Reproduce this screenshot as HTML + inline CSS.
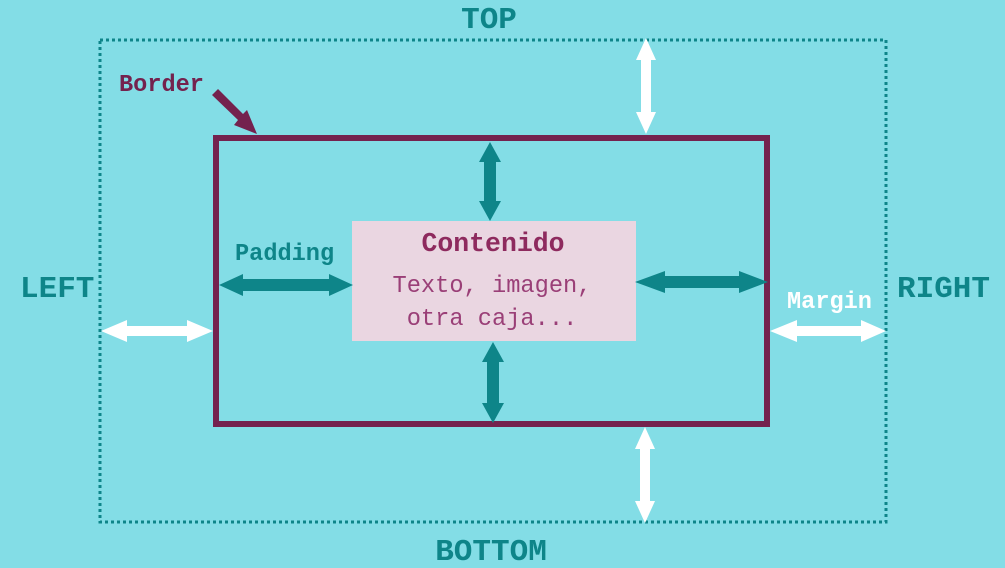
<!DOCTYPE html>
<html><head><style>html,body{margin:0;padding:0;background:#83dde6;}svg{display:block}</style></head>
<body>
<svg width="1005" height="568" viewBox="0 0 1005 568" xmlns="http://www.w3.org/2000/svg" font-family="'Liberation Mono', monospace">
<rect width="1005" height="568" fill="#83dde6"/>
<rect x="100" y="40" width="786" height="482" fill="none" stroke="#0e8589" stroke-width="3" stroke-dasharray="3 3"/>
<rect x="352" y="221" width="284" height="120" fill="#ead6e1"/>
<rect x="216" y="138" width="551" height="286" fill="none" stroke="#74224e" stroke-width="6"/>
<g fill="#0e8589">
<polygon points="490,142 501,162 496,162 496,201 501,201 490,221 479,201 484,201 484,162 479,162"/>
<polygon points="493,342 504,362 499,362 499,403 504,403 493,423 482,403 487,403 487,362 482,362"/>
<polygon points="219,285 243,274 243,279 329,279 329,274 353,285 329,296 329,291 243,291 243,296"/>
<polygon points="635,282 665,271 665,276 739,276 739,271 768,282 739,293 739,288 665,288 665,293"/>
</g>
<g fill="#fff">
<polygon points="646,38 656,60 651,60 651,112 656,112 646,134 636,112 641,112 641,60 636,60"/>
<polygon points="645,427 655,449 650,449 650,501 655,501 645,523 635,501 640,501 640,449 635,449"/>
<polygon points="101,331 127,320 127,326 187,326 187,320 213,331 187,342 187,336 127,336 127,342"/>
<polygon points="770,331 797,320 797,326 861,326 861,320 886,331 861,342 861,336 797,336 797,342"/>
</g>
<polygon points="212,95 218,89 243,114 247,110 257,134 234,125 238,120" fill="#74224e"/>
<g font-weight="bold">
<text x="489" y="28" text-anchor="middle" font-size="31" fill="#0e8589">TOP</text>
<text x="491" y="560" text-anchor="middle" font-size="31" fill="#0e8589">BOTTOM</text>
<text x="20" y="297" font-size="31" fill="#0e8589">LEFT</text>
<text x="897" y="297" font-size="31" fill="#0e8589">RIGHT</text>
<text x="119" y="91" font-size="23.6" fill="#74224e">Border</text>
<text x="235" y="260" font-size="23.6" fill="#0e8589">Padding</text>
<text x="787" y="308" font-size="23.6" fill="#fff">Margin</text>
<text x="493" y="251" text-anchor="middle" font-size="26.5" fill="#8e2a5e">Contenido</text>
</g>
<text x="492" y="292" text-anchor="middle" font-size="23.7" fill="#9a3f77">Texto, imagen,</text>
<text x="492" y="325" text-anchor="middle" font-size="23.7" fill="#9a3f77">otra caja...</text>
</svg>
</body></html>
